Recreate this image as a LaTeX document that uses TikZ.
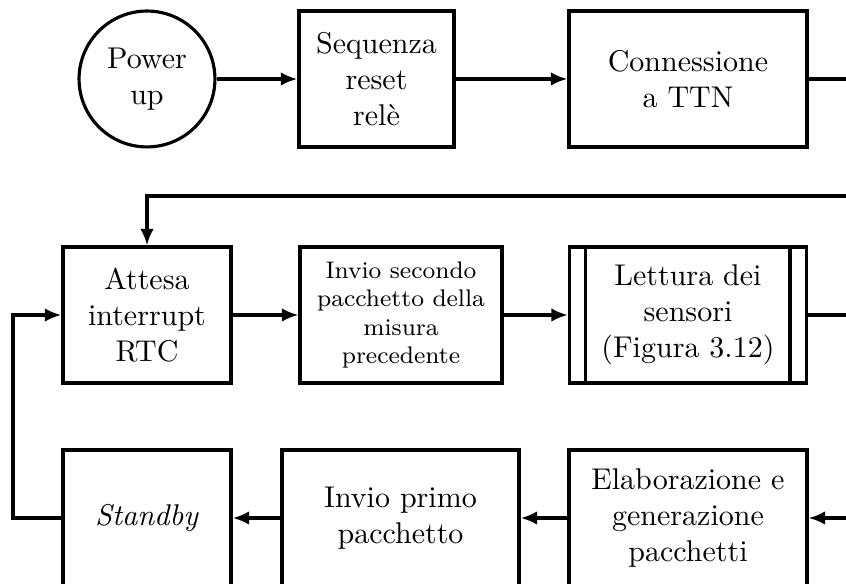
\documentclass[tikz,border=0pt]{standalone}
\usepackage{tikz}
\usetikzlibrary{arrows.meta}

\begin{document}
\begin{tikzpicture}[x=1pt, y=-1pt, line width=1.05pt,
    block/.style={draw, align=center, minimum height=45.3pt, inner sep=2pt},
    startcirc/.style={draw, circle, align=center, minimum size=45.3pt, inner sep=1pt},
    arr/.style={-{Latex[length=5.5pt,width=4.5pt]}}]
  % frame of the crop
  \clip (0,0) rectangle (282,194.67);
  % first row
  \node[startcirc] (power) at (49,26.33) {Power\\up};
  \node[block, minimum width=51.7pt] (reset) at (125.5,26.33) {Sequenza\\reset\\relè};
  \node[block, minimum width=79.3pt] (ttn) at (229.33,26.33) {Connessione\\a TTN};
  % second row
  \node[block, minimum width=56pt] (attesa) at (49,105) {Attesa\\interrupt\\RTC};
  \node[block, minimum width=67.3pt, font=\footnotesize] (invio2) at (133.67,105)
    {Invio secondo\\pacchetto della\\misura\\precedente};
  \node[block, minimum width=79pt] (lettura) at (229.33,105) {Lettura dei\\sensori\\(Figura 3.12)};
  \draw ([xshift=6pt]lettura.north west) -- ([xshift=6pt]lettura.south west);
  \draw ([xshift=-6pt]lettura.north east) -- ([xshift=-6pt]lettura.south east);
  % third row
  \node[block, minimum width=56pt] (standby) at (49,172.67) {\textit{Standby}};
  \node[block, minimum width=79pt] (invio1) at (133.5,172.67) {Invio primo\\pacchetto};
  \node[block, minimum width=79.3pt] (elab) at (229.33,172.67) {Elaborazione e\\generazione\\pacchetti};
  % loose ends at the edges
  \coordinate (out1) at (282,26.33);
  \coordinate (in1) at (282,65.33);
  \coordinate (out2) at (282,105);
  \coordinate (in2) at (282,172.67);
  \coordinate (back) at (4.33,172.67);
  % connectors
  \foreach \a/\b in {power/reset, reset/ttn, attesa/invio2, invio2/lettura,
                     elab/invio1, invio1/standby}
    \draw[arr] (\a) -- (\b);
  \draw (ttn) -- (out1);
  \draw[arr] (in1) -| (attesa);
  \draw (lettura) -- (out2);
  \draw[arr] (in2) -- (elab);
  \draw[arr] (standby.west) -- (back) |- (attesa.west);
\end{tikzpicture}
\end{document}
